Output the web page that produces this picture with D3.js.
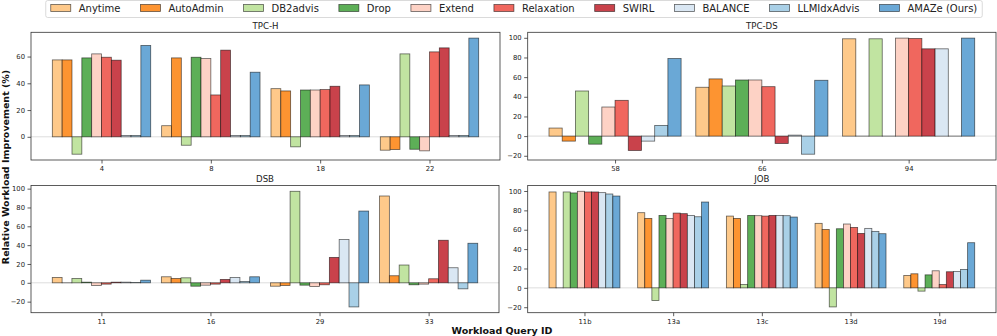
<!DOCTYPE html>
<html><head><meta charset="utf-8">
<script src="https://cdn.jsdelivr.net/npm/d3@7"></script>
<style>
body{margin:0;background:#fff;}
svg{font-family:"DejaVu Sans",sans-serif;}
</style></head>
<body><svg id="c" width="997" height="336"></svg>
<script>
const methods = ["Anytime","AutoAdmin","DB2advis","Drop","Extend","Relaxation","SWIRL","BALANCE","LLMIdxAdvis","AMAZe (Ours)"];
const colors = ["#fec98a","#fd9431","#c1e4a1","#5daf57","#fdd2c5","#f0675e","#c9424b","#dae7f3","#a9d0e7","#6aa8d6"];

// rows = methods, columns = queries
const tpchQueries = ["4","8","18","22"];
const tpchValues = [
  [57.5, 8.3, 36.0, -10.0],
  [57.5, 59.0, 34.3, -9.5],
  [-13.0, -6.3, -7.5, 62.0],
  [59.0, 59.5, 35.0, -9.3],
  [62.0, 58.5, 35.0, -10.5],
  [59.5, 31.3, 35.3, 63.5],
  [57.3, 64.8, 37.8, 66.5],
  [1.0, 1.0, 1.0, 1.0],
  [1.0, 1.0, 1.0, 1.0],
  [68.3, 48.3, 38.8, 73.8]
];
const tpchTicks = [0,20,40,60];

const tpcdsQueries = ["58","66","94"];
const tpcdsValues = [
  [8.2, 49.7, 99.0],
  [-5.1, 58.2, 0],
  [45.9, 51.0, 99.0],
  [-8.2, 57.1, 0],
  [29.6, 57.1, 99.7],
  [36.4, 50.3, 99.3],
  [-14.6, -7.5, 88.8],
  [-5.1, 1.0, 88.8],
  [10.9, -18.4, 0],
  [78.9, 56.8, 99.7]
];
const tpcdsTicks = [-20,0,20,40,60,80,100];

const dsbQueries = ["11","16","29","33"];
const dsbValues = [
  [5.7, 6.4, -3.6, 92.2],
  [0, 4.6, -2.8, 7.5],
  [4.6, 5.3, 97.2, 18.9],
  [0.7, -3.6, -2.5, -2.1],
  [-2.8, -2.5, -3.9, -1.4],
  [-1.4, -1.4, -2.1, 4.3],
  [0.7, 3.6, 27.0, 45.2],
  [0.7, 5.7, 45.9, 16.0],
  [0.4, 1.4, -25.6, -6.4],
  [2.8, 6.4, 76.2, 42.0]
];
const dsbTicks = [-20,0,20,40,60,80,100];

const jobQueries = ["11b","13a","13c","13d","19d"];
const jobValues = [
  [99.0, 77.6, 74.1, 66.6, 12.8],
  [0, 71.7, 71.7, 60.3, 14.5],
  [99.0, -13.1, 3.4, -19.7, -3.4],
  [98.0, 74.8, 74.8, 61.0, 13.4],
  [99.7, 71.7, 74.5, 65.9, 17.6],
  [99.0, 77.2, 74.1, 62.4, 3.4],
  [99.0, 76.6, 74.8, 56.2, 16.6],
  [98.3, 74.8, 74.8, 61.4, 16.9],
  [96.9, 73.4, 74.5, 58.3, 19.0],
  [94.8, 88.6, 73.1, 55.9, 46.6]
];
const jobTicks = [-20,0,20,40,60,80,100];

const svg = d3.select("#c");

const panels = [
  {title:"TPC-H", q:tpchQueries, v:tpchValues, ticks:tpchTicks, gw:0.9, box:[31,32.3,500,160]},
  {title:"TPC-DS", q:tpcdsQueries, v:tpcdsValues, ticks:tpcdsTicks, gw:0.9, box:[527.7,32.3,996,160]},
  {title:"DSB", q:dsbQueries, v:dsbValues, ticks:dsbTicks, gw:0.9, box:[31,185.5,499,312.7]},
  {title:"JOB", q:jobQueries, v:jobValues, ticks:jobTicks, gw:0.8, box:[527.7,185.5,996,312.7]}
];

panels.forEach(p => {
  const [x0,y0,x1,y1] = p.box;
  const n = p.q.length;
  const half = p.gw/2;
  const lo = -half, hi = n-1+half, pad = 0.05*(hi-lo);
  const x = d3.scaleLinear().domain([lo-pad, hi+pad]).range([x0,x1]);
  const all = p.v.flat().concat([0]);
  const mn = d3.min(all), mx = d3.max(all), yp = 0.05*(mx-mn);
  const y = d3.scaleLinear().domain([mn-yp, mx+yp]).range([y1,y0]);
  const g = svg.append("g");
  // zero line
  g.append("line").attr("x1",x0).attr("x2",x1).attr("y1",y(0)).attr("y2",y(0))
    .attr("stroke","#d9d9d9").attr("stroke-width",0.9);
  const bw = p.gw/10;
  p.v.forEach((row, j) => {
    g.selectAll(null).data(row).enter().append("rect")
      .attr("x",(d,i)=>x(i-half+j*bw))
      .attr("width",(d,i)=>x(i-half+(j+1)*bw)-x(i-half+j*bw))
      .attr("y",d=>y(Math.max(0,d)))
      .attr("height",d=>Math.max(0.01, Math.abs(y(d)-y(0))))
      .attr("fill",colors[j])
      .attr("stroke","#000").attr("stroke-opacity",0.6).attr("stroke-width",0.8);
  });
  // axes
  const fmt = d => (d<0?"\u2212"+Math.abs(d):String(d));
  const xa = g.append("g").attr("transform",`translate(0,${y1})`)
    .call(d3.axisBottom(x).tickValues(d3.range(n)).tickFormat(i=>p.q[i]).tickSize(3.5).tickPadding(2.5));
  const ya = g.append("g").attr("transform",`translate(${x0},0)`)
    .call(d3.axisLeft(y).tickValues(p.ticks).tickFormat(fmt).tickSize(3.5).tickPadding(2.5));
  [xa,ya].forEach(a=>{
    a.select(".domain").remove();
    a.selectAll("line").attr("stroke","#333").attr("stroke-width",0.8);
    a.selectAll("text").attr("font-size","6.8px").attr("fill","#222").attr("font-family","DejaVu Sans");
  });
  g.append("rect").attr("x",x0).attr("y",y0).attr("width",x1-x0).attr("height",y1-y0)
    .attr("fill","none").attr("stroke","#333").attr("stroke-width",0.8);
  g.append("text").attr("x",(x0+x1)/2).attr("y",y0-3.5).attr("text-anchor","middle")
    .attr("font-size","8.6px").attr("fill","#222").text(p.title);
});

// axis labels
svg.append("text").attr("transform","translate(6,167) rotate(-90)").attr("dy","0.35em")
  .attr("text-anchor","middle").attr("font-size","9.5px").attr("font-weight","bold").attr("fill","#111")
  .text("Relative Workload Improvement (%)");
svg.append("text").attr("x",502).attr("y",334).attr("text-anchor","middle")
  .attr("font-size","9.5px").attr("font-weight","bold").attr("fill","#111").text("Workload Query ID");

// legend
const lg = svg.append("g");
const fs = 10, handle = 20, tpad = 8, colsp = 20;
const items = [];
let cx = 0;
methods.forEach((m,j)=>{
  const t = lg.append("text").attr("font-size",fs+"px").attr("fill","#222").text(m);
  const w = t.node().getComputedTextLength();
  items.push({t, x:cx, w});
  cx += handle + tpad + w + colsp;
});
const total = cx - colsp;
const start = 514 - total/2;
lg.insert("rect",":first-child").attr("x",start-5).attr("y",0.5).attr("width",total+10).attr("height",17)
  .attr("rx",2).attr("fill","#fff").attr("stroke","#d0d0d0").attr("stroke-width",0.8);
items.forEach((it,j)=>{
  lg.append("rect").attr("x",start+it.x).attr("y",4.5).attr("width",handle).attr("height",7)
    .attr("fill",colors[j]).attr("stroke","#000").attr("stroke-opacity",0.6).attr("stroke-width",0.8);
  it.t.attr("x",start+it.x+handle+tpad).attr("y",12);
});
</script></body></html>
